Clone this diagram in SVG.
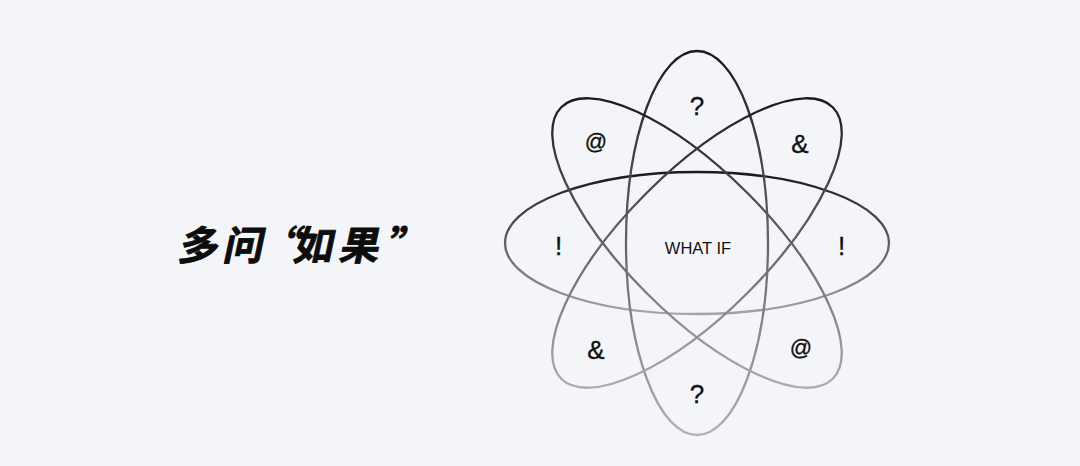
<svg xmlns="http://www.w3.org/2000/svg" width="1080" height="466" viewBox="0 0 1080 466">
  <defs>
    <linearGradient id="gV" gradientUnits="userSpaceOnUse" x1="697" y1="51" x2="697" y2="435">
      <stop offset="0" stop-color="#1a1a1a"/>
      <stop offset="1" stop-color="#b0b0b0"/>
    </linearGradient>
    <linearGradient id="gH" gradientUnits="userSpaceOnUse" x1="697" y1="172" x2="697" y2="314">
      <stop offset="0" stop-color="#1a1a1a"/>
      <stop offset="1" stop-color="#a4a4a4"/>
    </linearGradient>
    <linearGradient id="gA" gradientUnits="userSpaceOnUse" x1="594.5" y1="140.5" x2="799.5" y2="345.5">
      <stop offset="0" stop-color="#1a1a1a"/>
      <stop offset="1" stop-color="#adadad"/>
    </linearGradient>
    <linearGradient id="gB" gradientUnits="userSpaceOnUse" x1="799.5" y1="140.5" x2="594.5" y2="345.5">
      <stop offset="0" stop-color="#1a1a1a"/>
      <stop offset="1" stop-color="#adadad"/>
    </linearGradient>
  </defs>
  <style>
    .orb { fill: none; stroke-width: 2.3; }
    .sym { font-family: "Liberation Sans", Arial, sans-serif; font-size: 26px; fill: #111; stroke: #111; stroke-width: 0.35; text-anchor: middle; }
    .at { font-size: 22px; }
    .center { font-family: "Liberation Sans", Arial, sans-serif; font-size: 16.5px; fill: #111; text-anchor: middle; }
    .title { font-family: "Noto Sans CJK SC", "Noto Sans", sans-serif; font-size: 40px; font-weight: 700; fill: #0d0d0d; stroke: #0d0d0d; stroke-width: 0.8; stroke-linejoin: round; }
  </style>
  <rect width="1080" height="466" fill="#f4f5f9"/>

  <g id="title" transform="translate(55.3 0) skewX(-12)">
    <text class="title" x="177 222 259 292 338 385" y="260">多问“如果”</text>
  </g>

  <g id="orbits">
    <ellipse id="orbit-horizontal" class="orb" cx="697" cy="243" rx="192" ry="71" stroke="url(#gH)"/>
    <ellipse id="orbit-vertical" class="orb" cx="697" cy="243" rx="71" ry="192" stroke="url(#gV)"/>
    <ellipse id="orbit-diag-a" class="orb" cx="697" cy="243" rx="192" ry="71" transform="rotate(45 697 243)" stroke="url(#gA)"/>
    <ellipse id="orbit-diag-b" class="orb" cx="697" cy="243" rx="192" ry="71" transform="rotate(-45 697 243)" stroke="url(#gB)"/>
  </g>

  <g id="labels">
    <text id="center" class="center" x="698" y="254">WHAT IF</text>
    <text class="sym" x="697" y="115">?</text>
    <text class="sym at" x="596" y="149">@</text>
    <text class="sym" x="800" y="153">&amp;</text>
    <text class="sym" x="558.5" y="255">!</text>
    <text class="sym" x="841.5" y="255">!</text>
    <text class="sym" x="596" y="359">&amp;</text>
    <text class="sym at" x="801" y="355">@</text>
    <text class="sym" x="697" y="403">?</text>
  </g>
</svg>
